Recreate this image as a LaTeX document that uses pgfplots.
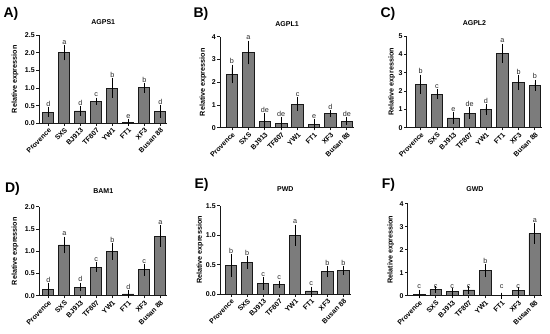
\documentclass[border=0pt]{standalone}
\usepackage{fontspec}
\setmainfont{Liberation Sans}
\usepackage{pgfplots}
\usepackage{pgfplotstable}
\pgfplotsset{compat=1.18}
\definecolor{barfill}{HTML}{7C7C7C}

\pgfplotstableread{
x y e ly lab
1 0.32 0.06 0.38 d
2 2.00 0.13 2.13 a
3 0.35 0.05 0.40 d
4 0.625 0.02 0.645 c
5 1.00 0.19 1.19 b
6 0.02 0.01 0.03 e
7 1.01 0.05 1.06 b
8 0.34 0.10 0.44 d
}\dataA
\pgfplotstableread{
x y e ly lab
1 2.36 0.28 2.64 b
2 3.31 0.39 3.70 a
3 0.29 0.21 0.50 de
4 0.20 0.13 0.33 de
5 1.04 0.16 1.20 c
6 0.16 0.08 0.24 e
7 0.61 0.02 0.63 d
8 0.29 0.05 0.34 de
}\dataB
\pgfplotstableread{
x y e ly lab
1 2.37 0.36 2.73 b
2 1.82 0.10 1.92 c
3 0.53 0.15 0.68 e
4 0.80 0.14 0.94 de
5 0.98 0.13 1.11 d
6 4.06 0.36 4.42 a
7 2.45 0.24 2.69 b
8 2.31 0.14 2.45 b
}\dataC
\pgfplotstableread{
x y e ly lab
1 0.15 0.06 0.21 d
2 1.14 0.12 1.26 a
3 0.195 0.03 0.225 d
4 0.64 0.04 0.68 c
5 1.00 0.12 1.12 b
6 0.04 0.01 0.05 d
7 0.58 0.06 0.64 c
8 1.34 0.17 1.51 a
}\dataD
\pgfplotstableread{
x y e ly lab
1 0.49 0.14 0.63 b
2 0.54 0.06 0.60 b
3 0.18 0.055 0.235 c
4 0.165 0.015 0.18 c
5 1.00 0.13 1.13 a
6 0.056 0.025 0.081 c
7 0.385 0.045 0.43 b
8 0.40 0.02 0.42 b
}\dataE
\pgfplotstableread{
x y e ly lab
1 0.07 0.06 0.15 c
2 0.26 0.02 0.15 c
3 0.17 0.05 0.15 c
4 0.25 0.03 0.15 c
5 1.09 0.15 1.24 b
6 0.0 0.0 0.15 c
7 0.21 0.04 0.15 c
8 2.70 0.31 3.01 a
}\dataF

\pgfplotsset{
 prism/.style={
  scale only axis, clip=false,
  axis lines=left, axis line style={-, line width=0.9pt, black!90},
  ymin=0, xmax=8.45,
  xtick={1,2,3,4,5,6,7,8},
  xticklabels={Provence,SXS,BJ913,TF807,YW1,FT1,XF3,Busan 88},
  tick align=outside, major tick length=2.6pt,
  every tick/.style={black!90, line width=0.8pt},
  /pgf/number format/assume math mode=true,
  x tick label style={rotate=45, anchor=north east, inner sep=1pt, font=\bfseries\fontsize{7}{8}\selectfont},
  y tick label style={inner sep=1.5pt, font=\bfseries\fontsize{7}{8}\selectfont},
  ylabel={Relative expression},
  every axis y label/.style={at={(axis description cs:0,0.5)}, rotate=90, anchor=center, font=\bfseries\fontsize{7.2}{8}\selectfont},
  every axis title/.style={at={(axis description cs:0.5,1)}, anchor=center, font=\bfseries\fontsize{7}{8}\selectfont},
 },
 onedec/.style={yticklabel style={/pgf/number format/.cd, fixed, fixed zerofill, precision=1}},
 bars/.style={ybar, bar width=0.7, fill=barfill, draw=black!90, line width=0.8pt,
   error bars/.cd, y dir=both, y explicit, error bar style={line width=0.7pt, black}, error mark options={line width=0.7pt, mark size=3pt, black}},
 lets/.style={draw=none, mark=none, nodes near coords, point meta=explicit symbolic,
   every node near coord/.style={anchor=south, inner sep=0.5pt, yshift=3pt, font=\fontsize{7.2}{8}\selectfont, text=black!85}},
}

\begin{document}
\begin{tikzpicture}
\useasboundingbox (0,0) rectangle (550pt,334pt);

% A
\begin{axis}[prism, onedec, at={(39pt,210.7pt)}, anchor=south west, width=128.5pt, height=88pt,
  xmin=0.42, ymax=2.5, ytick={0,0.5,1,1.5,2,2.5}, title={AGPS1}, title style={yshift=13.6pt},
  ylabel style={at={(axis description cs:-0.187,0.5)}}]
\addplot[bars] table[x=x, y=y, y error=e] {\dataA};
\addplot[lets] table[x=x, y=ly, meta=lab] {\dataA};
\end{axis}

% B
\begin{axis}[prism, at={(220pt,206.3pt)}, anchor=south west, width=134.2pt, height=91pt,
  xmin=0.27, ymax=4, ytick={0,1,2,3,4}, title={AGPL1}, title style={yshift=12.7pt},
  ylabel style={at={(axis description cs:-0.127,0.5)}}]
\addplot[bars] table[x=x, y=y, y error=e] {\dataB};
\addplot[lets] table[x=x, y=ly, meta=lab] {\dataB};
\end{axis}

% C
\begin{axis}[prism, at={(406.7pt,206.3pt)}, anchor=south west, width=135.5pt, height=91.7pt,
  xmin=0.14, ymax=5, ytick={0,1,2,3,4,5}, title={AGPL2}, title style={yshift=13pt},
  ylabel style={at={(axis description cs:-0.111,0.5)}}]
\addplot[bars] table[x=x, y=y, y error=e] {\dataC};
\addplot[lets] table[x=x, y=ly, meta=lab] {\dataC};
\end{axis}

% D
\begin{axis}[prism, onedec, at={(39pt,38.3pt)}, anchor=south west, width=128.5pt, height=89pt,
  xmin=0.42, ymax=2, ytick={0,0.5,1,1.5,2}, title={BAM1}, title style={yshift=16pt},
  ylabel style={at={(axis description cs:-0.187,0.5)}}]
\addplot[bars] table[x=x, y=y, y error=e] {\dataD};
\addplot[lets] table[x=x, y=ly, meta=lab] {\dataD};
\end{axis}

% E
\begin{axis}[prism, onedec, at={(220pt,39.7pt)}, anchor=south west, width=130.6pt, height=88.6pt,
  xmin=0.31, ymax=1.5, ytick={0,0.5,1,1.5}, title={PWD}, title style={yshift=16.5pt},
  ylabel style={at={(axis description cs:-0.153,0.5)}}]
\addplot[bars] table[x=x, y=y, y error=e] {\dataE};
\addplot[lets] table[x=x, y=ly, meta=lab] {\dataE};
\end{axis}

% F
\begin{axis}[prism, at={(407.7pt,38.3pt)}, anchor=south west, width=134.5pt, height=92pt,
  xmin=0.30, ymax=4, ytick={0,1,2,3,4}, title={GWD}, title style={yshift=14.4pt},
  ylabel style={at={(axis description cs:-0.126,0.5)}}]
\addplot[bars] table[x=x, y=y, y error=e] {\dataF};
\addplot[lets] table[x=x, y=ly, meta=lab] {\dataF};
\end{axis}

\begin{scope}[every node/.style={font=\bfseries\fontsize{14}{14}\selectfont, inner sep=0pt}]
\node at (11pt,320pt) {A)};
\node at (201pt,320pt) {B)};
\node at (388pt,320pt) {C)};
\node at (12.5pt,145.5pt) {D)};
\node at (201.5pt,149pt) {E)};
\node at (388.5pt,149pt) {F)};
\end{scope}
\end{tikzpicture}
\end{document}
